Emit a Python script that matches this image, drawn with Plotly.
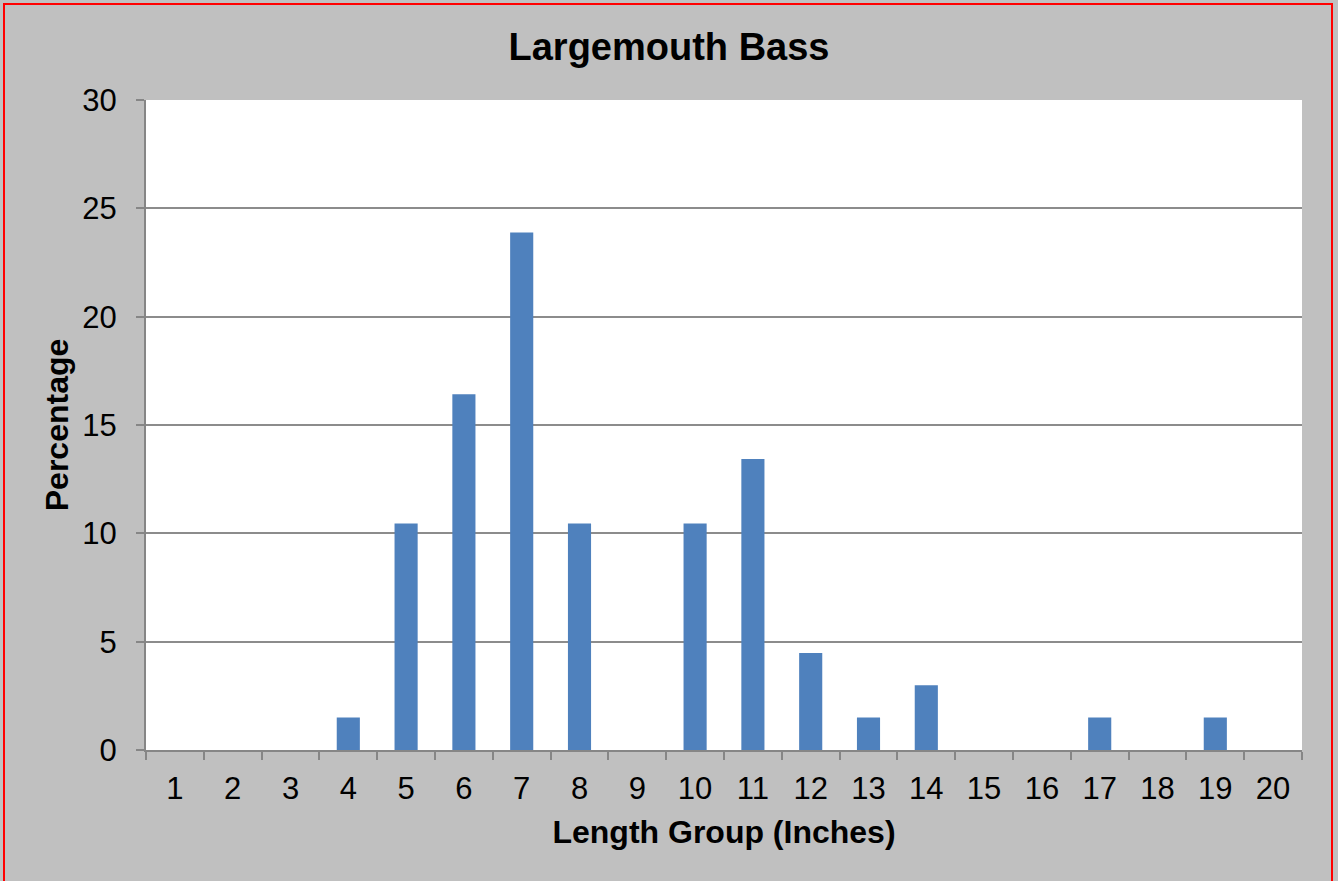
import plotly.graph_objects as go

length_groups = [str(i) for i in range(1, 21)]
percentages = [0, 0, 0, 1.5, 10.45, 16.42, 23.88, 10.45, 0, 10.45,
               13.43, 4.48, 1.5, 2.99, 0, 0, 1.5, 0, 1.5, 0]
chart_title = "Largemouth Bass"
x_title = "Length Group (Inches)"
y_title = "Percentage"

W, H = 1338, 881
L, R, T, B = 146, 36, 100, 131
pw, ph = W - L - R, H - T - B

def px_x(p):
    return (p - L) / pw

def px_y(p):
    return (H - B - p) / ph

fig = go.Figure()
fig.add_trace(go.Bar(x=length_groups, y=percentages, marker_color="#4F81BD",
                     marker_line_width=0))

axis_color = "#868686"
fig.update_layout(
    width=W, height=H,
    margin=dict(l=L, r=R, t=T, b=B, autoexpand=False),
    paper_bgcolor="#C0C0C0",
    plot_bgcolor="#FFFFFF",
    bargap=0.6,
    showlegend=False,
    font=dict(family="Liberation Sans, Arial, sans-serif", color="#000000"),
    title=dict(text="<b>" + chart_title + "</b>", x=0.5, xref="container",
               xanchor="center", y=1 - 47 / H, yref="container", yanchor="middle",
               font=dict(size=38, family="Liberation Sans, Arial, sans-serif")),
    xaxis=dict(type="category", tickson="boundaries", ticks="outside", ticklen=8,
               tickcolor=axis_color, tickwidth=2, showline=True, linecolor=axis_color,
               linewidth=2, showgrid=False, tickfont=dict(size=31), ticklabelstandoff=10,
               title=dict(text="<b>" + x_title + "</b>", font=dict(size=32), standoff=15)),
    yaxis=dict(range=[0, 30], dtick=5, ticks="outside", ticklen=8, tickcolor=axis_color,
               tickwidth=2, showline=True, linecolor=axis_color, linewidth=2,
               gridcolor="#8C8C8C", gridwidth=2, zeroline=False,
               tickfont=dict(size=31), ticklabelstandoff=13,
               title=dict(text="<b>" + y_title + "</b>", font=dict(size=32), standoff=4)),
    shapes=[dict(type="rect", xref="paper", yref="paper",
                 x0=px_x(4), x1=px_x(1332), y0=px_y(900), y1=px_y(4),
                 line=dict(color="#FF0000", width=2), fillcolor="rgba(0,0,0,0)",
                 layer="above")],
)

fig.write_html("out.html", config={"displayModeBar": False},
               post_script="document.body.style.margin='0px';")
